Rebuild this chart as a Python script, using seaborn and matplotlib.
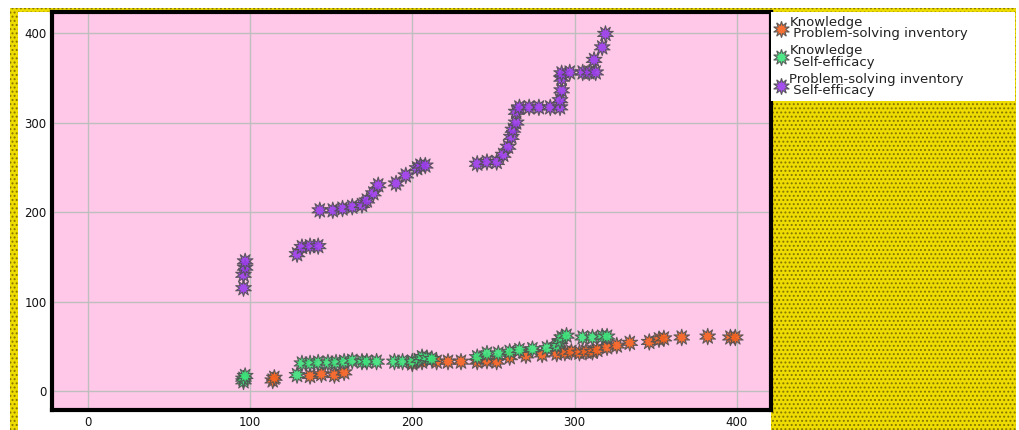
import matplotlib
matplotlib.use("Agg")
import matplotlib.pyplot as plt
from matplotlib.patches import Rectangle
import seaborn as sns
import pandas as pd

# ---- data ----
series_names = ["Knowledge\n Problem-solving inventory",
                "Knowledge\n Self-efficacy",
                "Problem-solving inventory\n Self-efficacy"]

kp_x = [114, 115, 137, 144, 152, 158, 200, 206, 215, 222, 230, 240, 246, 252, 260, 270, 280,
        289, 294, 298, 303, 307, 311, 314, 320, 326, 334, 346, 352, 355, 366, 382, 396, 399]
kp_y = [12, 15, 17, 19, 18, 21, 31, 33, 33, 33, 33, 33, 34, 33, 38, 40, 41,
        42, 43, 44, 43, 44, 44, 46, 49, 51, 54, 55, 58, 59, 60, 61, 60, 60]

ks_x = [96, 96, 97, 129, 132, 137, 142, 148, 153, 158, 163, 169, 172, 178,
        189, 194, 200, 204, 206, 209, 212, 240, 246, 253, 260, 266, 274, 283, 289, 291, 292, 295,
        305, 311, 317, 320]
ks_y = [11, 14, 17, 18, 31, 31, 32, 32, 32, 33, 34, 33, 33, 33,
        33, 33, 33, 35, 38, 37, 36, 38, 42, 42, 44, 46, 47, 48, 51, 56, 60, 62,
        60, 60, 61, 61]

ps_x = [96, 96, 97, 97, 129, 132, 137, 142, 143, 151, 157, 163, 169, 172, 176, 179,
        190, 196, 203, 205, 208, 240, 246, 252, 256, 259, 261, 262, 264, 264, 266,
        272, 278, 285, 291, 291, 292, 292, 292, 297, 305, 309, 313, 312, 317, 319]
ps_y = [115, 130, 138, 145, 153, 161, 162, 162, 202, 202, 204, 206, 208, 213, 221, 230,
        232, 241, 249, 252, 252, 254, 256, 256, 264, 273, 284, 292, 300, 312, 317,
        317, 317, 317, 317, 325, 336, 349, 355, 356, 356, 356, 356, 370, 384, 399]

x_ticks = [0, 100, 200, 300, 400]
y_ticks = [0, 100, 200, 300, 400]

colors = ["#F4621E", "#3BE47A", "#9A3CEB"]

df = pd.concat([
    pd.DataFrame({"x": kp_x, "y": kp_y, "series": series_names[0]}),
    pd.DataFrame({"x": ks_x, "y": ks_y, "series": series_names[1]}),
    pd.DataFrame({"x": ps_x, "y": ps_y, "series": series_names[2]}),
], ignore_index=True)

sns.set_style("white")
plt.rcParams["font.family"] = ["DejaVu Sans"]

W, H = 1019, 430
fig = plt.figure(figsize=(W / 100, H / 100), dpi=100, facecolor="white")

# yellow dotted outer band
plt.rcParams["hatch.linewidth"] = 0.9
yellow = Rectangle((10 / W, 0), (1016 - 10) / W, (H - 8) / H, transform=fig.transFigure,
                   facecolor="#EEDC00", edgecolor="#857500", hatch="....", linewidth=0, zorder=-3)
fig.patches.append(yellow)
white = Rectangle((18 / W, 0), (771 - 18) / W, (H - 12) / H, transform=fig.transFigure,
                  facecolor="white", edgecolor="none", linewidth=0, zorder=-2)
fig.patches.append(white)

ax = fig.add_axes([52 / W, 1 - 410 / H, (771 - 52) / W, (410 - 12) / H])
ax.set_facecolor("#FFC8E8")

sns.scatterplot(data=df, x="x", y="y", hue="series", hue_order=series_names,
                palette=colors, marker=(10, 1, 0), s=140, edgecolor="#505050",
                linewidth=0.8, alpha=0.9, ax=ax, zorder=3)

ax.set_xlim(-22, 421)
ax.set_ylim(-21, 423.5)
ax.set_xticks(x_ticks)
ax.set_yticks(y_ticks)
ax.grid(True, color="#BEBEBE", linewidth=1)
ax.set_axisbelow(True)
ax.tick_params(length=0, labelsize=8.5, colors="#111111", pad=4)
ax.set_xlabel("")
ax.set_ylabel("")
for sp in ax.spines.values():
    sp.set_color("black")
    sp.set_linewidth(3)
    sp.set_visible(True)

handles, labels = ax.get_legend_handles_labels()
ax.get_legend().remove()
leg = fig.legend(handles, labels, loc="upper left",
                 bbox_to_anchor=(771 / W, 0, (1015 - 771) / W, 1 - 12 / H),
                 bbox_transform=fig.transFigure, mode="expand",
                 frameon=True, fancybox=False, framealpha=1, edgecolor="white",
                 fontsize=9.5, handletextpad=0.2, handlelength=0.9,
                 labelspacing=0.3, borderpad=0.3, borderaxespad=0)
leg.get_frame().set_linewidth(0)
for t in leg.get_texts():
    t.set_color("#222222")
    t.set_linespacing(0.85)

fig.savefig("out.png", dpi=100, facecolor=fig.get_facecolor())
